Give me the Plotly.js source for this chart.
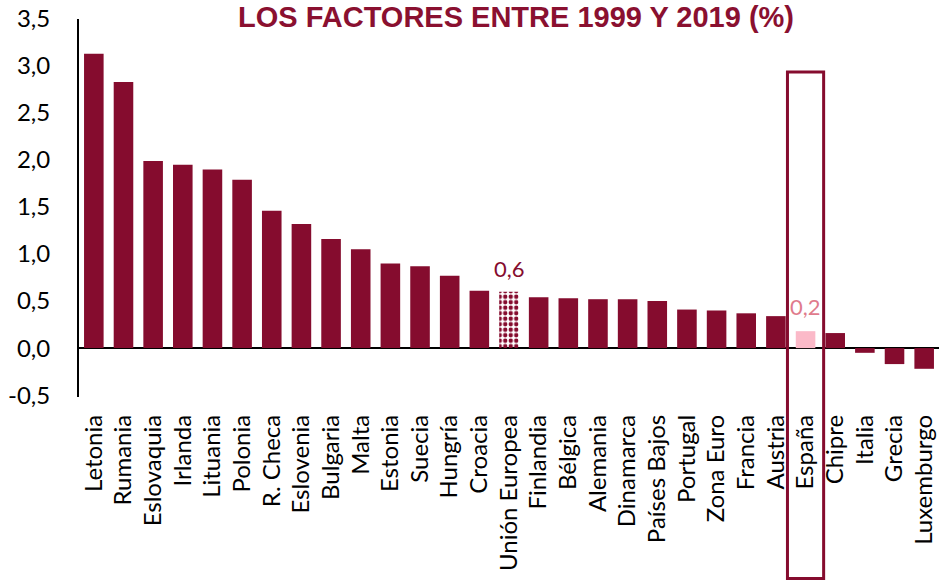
<!DOCTYPE html>
<html>
<head>
<meta charset="utf-8">
<script src="https://cdn.plot.ly/plotly-3.0.1.min.js"></script>
<style>html,body{margin:0;padding:0;background:#fff;}#chart{width:939px;height:581px;}</style>
</head>
<body>
<div id="chart"></div>
<script>
const categories = ["Letonia","Rumania","Eslovaquia","Irlanda","Lituania","Polonia","R. Checa","Eslovenia","Bulgaria","Malta","Estonia","Suecia","Hungría","Croacia","Unión Europea","Finlandia","Bélgica","Alemania","Dinamarca","Países Bajos","Portugal","Zona Euro","Francia","Austria","España","Chipre","Italia","Grecia","Luxemburgo"];
const values = [3.13,2.83,1.99,1.95,1.90,1.79,1.46,1.32,1.16,1.05,0.90,0.87,0.77,0.61,0.60,0.54,0.53,0.52,0.52,0.50,0.41,0.40,0.37,0.34,0.18,0.16,-0.05,-0.17,-0.22];
const yTickVals = [-0.5,0,0.5,1,1.5,2,2.5,3,3.5];
const yTickText = ["-0,5","0,0","0,5","1,0","1,5","2,0","2,5","3,0","3,5"];
const highlightEU = "Unión Europea";
const highlightES = "España";
const labelEU = "0,6";
const labelES = "0,2";
const titleText = "LOS FACTORES ENTRE 1999 Y 2019 (%)";

const RED = "#850c2e";
const PINK = "#fbb9c8";
const iEU = categories.indexOf(highlightEU);
const iES = categories.indexOf(highlightES);

const colors = categories.map((c,i)=> i===iES ? PINK : RED);
const patternShapes = categories.map((c,i)=> i===iEU ? "." : "");
const patternBg = categories.map((c,i)=> i===iEU ? "#ffffff" : colors[i]);

const trace = {
  type: "bar",
  x: categories,
  y: values,
  marker: {
    color: colors,
    line: {width: 0},
    pattern: {shape: patternShapes, fgcolor: RED, bgcolor: patternBg, size: 5.5, solidity: 0.5, fillmode: "replace"}
  },
  hoverinfo: "skip"
};

const layout = {
  width: 939, height: 581,
  margin: {l: 79, r: 0, t: 19, b: 184},
  paper_bgcolor: "#fff", plot_bgcolor: "#fff",
  bargap: 0.34,
  showlegend: false,
  font: {family: "Lato, 'Open Sans', sans-serif", size: 24, color: "#000"},
  title: {text: titleText, font: {family: "'Liberation Sans', Arial, sans-serif", size: 29, color: "#8a1030", weight: "bold"},
          x: 516/939, xanchor: "center", yref: "container", y: 1 - 7/581, yanchor: "top", pad: {t: 0}},
  xaxis: {
    type: "category", tickangle: -90, showgrid: false, showline: false, ticks: "",
    tickfont: {size: 24}, automargin: false, ticklabelstandoff: 12
  },
  yaxis: {
    range: [-0.52, 3.5], tickvals: yTickVals, ticktext: yTickText,
    showgrid: false, showline: true, linecolor: "#000", linewidth: 2,
    zeroline: true, zerolinecolor: "#000", zerolinewidth: 2,
    ticks: "", tickfont: {size: 24}, ticklabelstandoff: 22, automargin: false
  },
  shapes: [{
    type: "rect", xref: "x", yref: "paper",
    x0: iES - 0.61, x1: iES + 0.61, y0: -0.48, y1: 0.86,
    line: {color: RED, width: 3}, fillcolor: "rgba(0,0,0,0)", layer: "above"
  }],
  annotations: [
    {x: categories[iEU], y: values[iEU], xref: "x", yref: "y", text: labelEU, showarrow: false,
     yanchor: "bottom", yshift: 8, font: {size: 22, color: RED}},
    {x: categories[iES], y: values[iES], xref: "x", yref: "y", text: labelES, showarrow: false,
     yanchor: "bottom", yshift: 9, font: {size: 22, color: "#e07b8c"}}
  ]
};

Plotly.newPlot("chart", [trace], layout, {staticPlot: true, displayModeBar: false});
</script>
</body>
</html>
